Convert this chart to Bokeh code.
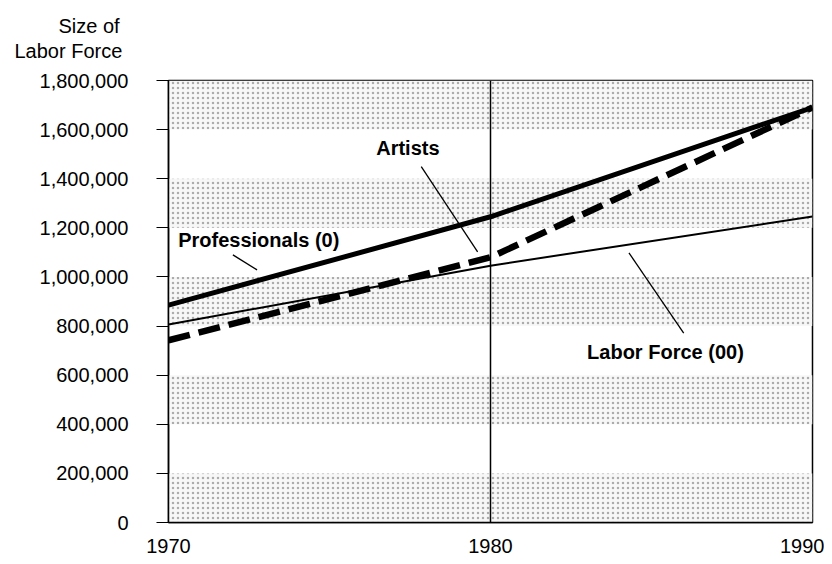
from bokeh.plotting import figure
from bokeh.models import Range1d, NumeralTickFormatter, FixedTicker, Label, Span, Title
from bokeh.embed import file_html
from bokeh.resources import INLINE

years = [1970, 1980, 1990]
professionals = [885000, 1245000, 1690000]
artists = [742000, 1080000, 1690000]
labor_force = [806000, 1046000, 1246000]

band_bottoms = [0, 400000, 800000, 1200000, 1600000]
band_tops = [200000, 600000, 1000000, 1400000, 1800000]

y_ticks = [0, 200000, 400000, 600000, 800000, 1000000, 1200000, 1400000, 1600000, 1800000]
x_ticks = [1970, 1980, 1990]

# annotation text and leader lines (x, y in data units)
labels = [("Artists", 1976.45, 1527000), ("Professionals (0)", 1970.3, 1151000), ("Labor Force (00)", 1983.0, 694000)]
leaders_x = [[1977.85, 1979.6], [1972.0, 1972.75], [1984.3, 1986.0]]
leaders_y = [[1449000, 1102000], [1090000, 1029000], [1098000, 771000]]

FONT = "Liberation Sans"
FS = "20px"

p = figure(width=824, height=556, output_backend="svg", toolbar_location=None,
           x_range=Range1d(1970, 1990), y_range=Range1d(0, 1800000),
           min_border_left=168, min_border_right=12, min_border_top=80, min_border_bottom=34)
p.background_fill_color = "white"
p.border_fill_color = "white"
p.outline_line_color = "black"
p.outline_line_width = 1.5
p.xgrid.visible = False
p.ygrid.visible = False

# stippled bands
p.quad(left=1970, right=1990, bottom=band_bottoms, top=band_tops,
       fill_color="#f7f7f7", fill_alpha=1.0, line_color=None,
       hatch_pattern=".", hatch_color="#8a8a8a", hatch_scale=5, hatch_weight=1, hatch_alpha=0.7)

p.add_layout(Span(location=1980, dimension="height", line_color="black", line_width=1.5))

p.line(years, labor_force, line_color="black", line_width=2)
p.line(years, professionals, line_color="black", line_width=5)
p.line(years, artists, line_color="black", line_width=6.5, line_dash="22 9")

p.multi_line(leaders_x, leaders_y, line_color="black", line_width=1.3)

for txt, lx, ly in labels:
    p.add_layout(Label(x=lx, y=ly, text=txt, text_font=FONT, text_font_style="bold",
                       text_font_size=FS, text_baseline="middle", text_align="left",
                       text_color="black"))

# y-axis title as two stacked titles (with a blank spacer next to the frame)
spacer = Title(text=" ", align="left", text_font=FONT, text_font_size="14px", standoff=0)
t1 = Title(text="Labor Force", align="left", offset=-154, text_font=FONT, text_font_size=FS,
           text_font_style="normal", standoff=2, text_color="black")
t2 = Title(text="Size of", align="left", offset=-110, text_font=FONT, text_font_size=FS,
           text_font_style="normal", standoff=0, text_color="black")
p.add_layout(spacer, "above")
p.add_layout(t1, "above")
p.add_layout(t2, "above")

ya = p.yaxis[0]
ya.ticker = FixedTicker(ticks=y_ticks)
ya.formatter = NumeralTickFormatter(format="0,0")
ya.major_tick_out = 12
ya.major_tick_in = 0
ya.minor_tick_out = 0
ya.minor_tick_in = 0
ya.major_label_standoff = 28
ya.axis_line_width = 1.5
ya.major_tick_line_width = 1.2
ya.major_label_text_font = FONT
ya.major_label_text_font_size = FS
ya.major_label_text_color = "black"

xa = p.xaxis[0]
xa.ticker = FixedTicker(ticks=x_ticks)
xa.major_tick_out = 0
xa.major_tick_in = 0
xa.minor_tick_out = 0
xa.minor_tick_in = 0
xa.major_label_standoff = 16
xa.axis_line_width = 1.5
xa.major_label_text_font = FONT
xa.major_label_text_font_size = FS
xa.major_label_text_color = "black"

open("out.html", "w").write(file_html(p, INLINE))
